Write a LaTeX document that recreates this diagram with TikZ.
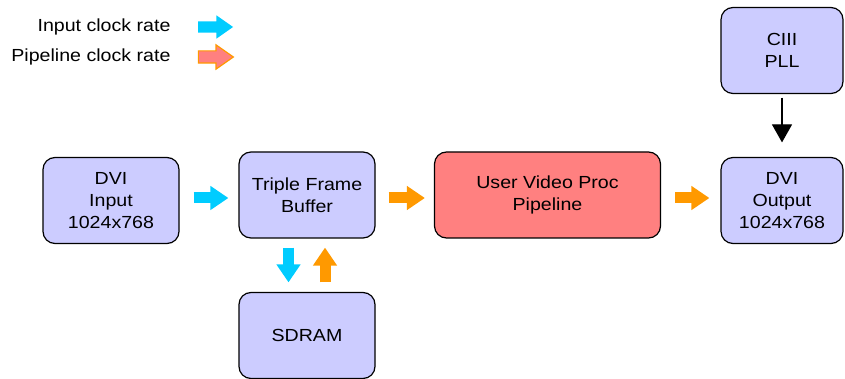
\documentclass[tikz,border=0pt]{standalone}
\usepackage{fontspec}
\setmainfont{Liberation Sans}[FakeStretch=1.12]
\usetikzlibrary{arrows.meta,shapes.arrows}

\definecolor{boxblue}{RGB}{204,204,255}
\definecolor{procred}{RGB}{255,128,128}
\definecolor{inclk}{RGB}{0,204,255}
\definecolor{pipeclk}{RGB}{255,153,0}

\begin{document}
\begin{tikzpicture}[x=1pt, y=-1pt,
  blk/.style={draw, line width=1.2pt, rounded corners=12pt, fill=boxblue,
    minimum width=136pt, minimum height=86pt, align=center, inner sep=0pt,
    font=\fontsize{17.5}{22}\selectfont},
  fat/.style={line width=11pt, -{Triangle[width=23pt,length=18pt]}},
  inrate/.style={fat, draw=inclk},
  piperate/.style={fat, draw=pipeclk},
  key/.style={single arrow, minimum height=35pt, minimum width=23pt,
    single arrow head extend=6pt, single arrow tip angle=70, inner sep=5.5pt},
  lbl/.style={anchor=east, font=\fontsize{17.5}{22}\selectfont}]

  \useasboundingbox (0,0) rectangle (845,379);

  %% legend
  \node[lbl] (lin) at (174,27) {Input clock rate};
  \node[lbl] (lpipe) at (174,57) {Pipeline clock rate};
  \node[key, fill=inclk] (kin) at (211.5,27) {};
  \node[key, fill=procred, draw=pipeclk, line width=1.2pt] (kpipe) at (211.5,57) {};

  %% blocks
  \node[blk] (dviin) at (111,200.5) {DVI\\Input\\1024x768};
  \node[blk] (tfb) at (307,195) {Triple Frame\\Buffer};
  \node[blk, fill=procred, minimum width=226pt] (uvp) at (547.5,195) {User Video Proc\\Pipeline};
  \node[blk, minimum width=122pt] (dviout) at (782,200.5) {DVI\\Output\\1024x768};
  \node[blk, minimum width=122pt] (pll) at (782,50.5) {CIII\\PLL};
  \node[blk] (sdram) at (307,335.5) {SDRAM};

  %% clock arrows
  \draw[inrate] ([shift={(14,-2.5)}]dviin.east) -- ([shift={(-10,3)}]tfb.west); %% in -> buffer
  \draw[piperate] ([shift={(13,3)}]tfb.east) -- ([shift={(-9,3)}]uvp.west); %% buffer -> proc
  \draw[piperate] ([shift={(14,3)}]uvp.east) -- ([shift={(-11,-2.5)}]dviout.west); %% proc -> out
  \draw[inrate] ([shift={(-18.5,9)}]tfb.south) -- ([shift={(-18.5,-9.5)}]sdram.north); %% buffer -> ram
  \draw[piperate] ([shift={(18,-9.5)}]sdram.north) -- ([shift={(18,9)}]tfb.south); %% ram -> buffer

  \draw[line width=1.2pt, -{Triangle[width=20pt,length=18pt]}] ([shift={(0,3.5)}]pll.south) -- ([shift={(0,-14.5)}]dviout.north);
\end{tikzpicture}
\end{document}
